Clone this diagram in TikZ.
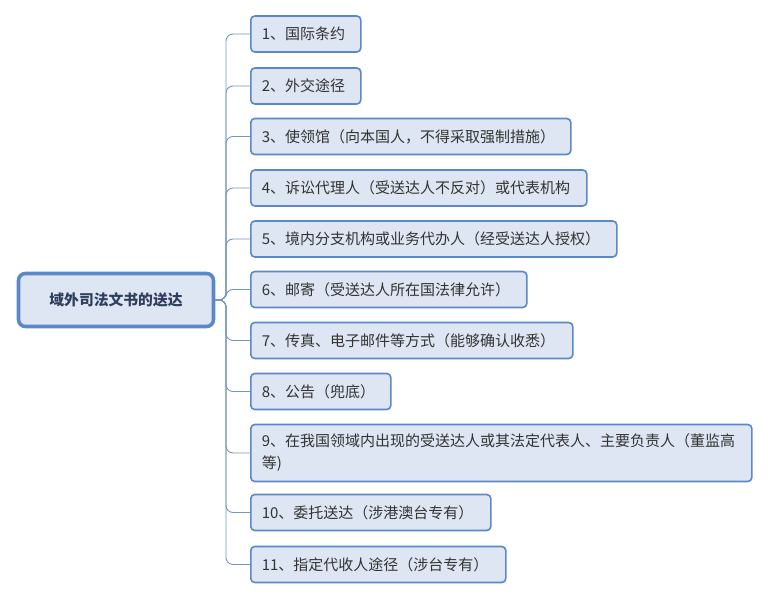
\documentclass[tikz,border=0pt]{standalone}
\usepackage{fontspec}
\setmainfont{Noto Sans CJK SC}
\definecolor{bordc}{HTML}{5B88C8}
\definecolor{fillc}{HTML}{DDE6F2}
\definecolor{linec}{HTML}{7896C2}
\definecolor{txtc}{HTML}{333333}
\definecolor{roottxt}{HTML}{2E3E5C}
\tikzset{
  kid/.style={draw=bordc, fill=fillc, line width=1.6pt, rounded corners=4pt,
    anchor=west, inner xsep=11pt, inner ysep=0pt, minimum height=36pt,
    align=left, text=txtc, font=\fontsize{15}{22}\selectfont},
  rootbox/.style={draw=bordc, fill=fillc, line width=3.6pt, rounded corners=7pt,
    minimum width=195pt, minimum height=53pt, text=roottxt,
    font=\fontsize{14.8}{18}\selectfont\bfseries},
  conn/.style={draw=linec, line width=0.9pt, rounded corners=7pt}
}
\begin{document}
\begin{tikzpicture}[x=1pt,y=-1pt]
\useasboundingbox (0,0) rectangle (768,601);
\node[rootbox] (root) at (116,300) {域外司法文书的送达};
\node[kid, text width=88pt] (c1) at (250,34) {1、国际条约};
\node[kid, text width=88pt] (c2) at (250,86) {2、外交途径};
\node[kid, text width=298pt] (c3) at (250,136.5) {3、使领馆（向本国人，不得采取强制措施）};
\node[kid, text width=314pt] (c4) at (250,188) {4、诉讼代理人（受送达人不反对）或代表机构};
\node[kid, text width=344pt] (c5) at (250,239) {5、境内分支机构或业务代办人（经受送达人授权）};
\node[kid, text width=254pt] (c6) at (250,289.5) {6、邮寄（受送达人所在国法律允许）};
\node[kid, text width=300pt] (c7) at (250,340.5) {7、传真、电子邮件等方式（能够确认收悉）};
\node[kid, text width=118pt] (c8) at (250,391.5) {8、公告（兜底）};
\node[kid, text width=479pt, minimum height=57pt] (c9) at (250,453) {9、在我国领域内出现的受送达人或其法定代表人、主要负责人（董监高\\等)};
\node[kid, text width=218pt] (c10) at (250,512.5) {10、委托送达（涉港澳台专有）};
\node[kid, text width=233pt] (c11) at (250,564.5) {11、指定代收人途径（涉台专有）};
\coordinate (j) at (226,300);
\foreach \c in {c1,c2,c3,c4,c5,c6,c7,c8,c9,c10,c11}{
  \draw[conn] (root.east) -- (j) |- (\c.west);
}
\end{tikzpicture}
\end{document}
